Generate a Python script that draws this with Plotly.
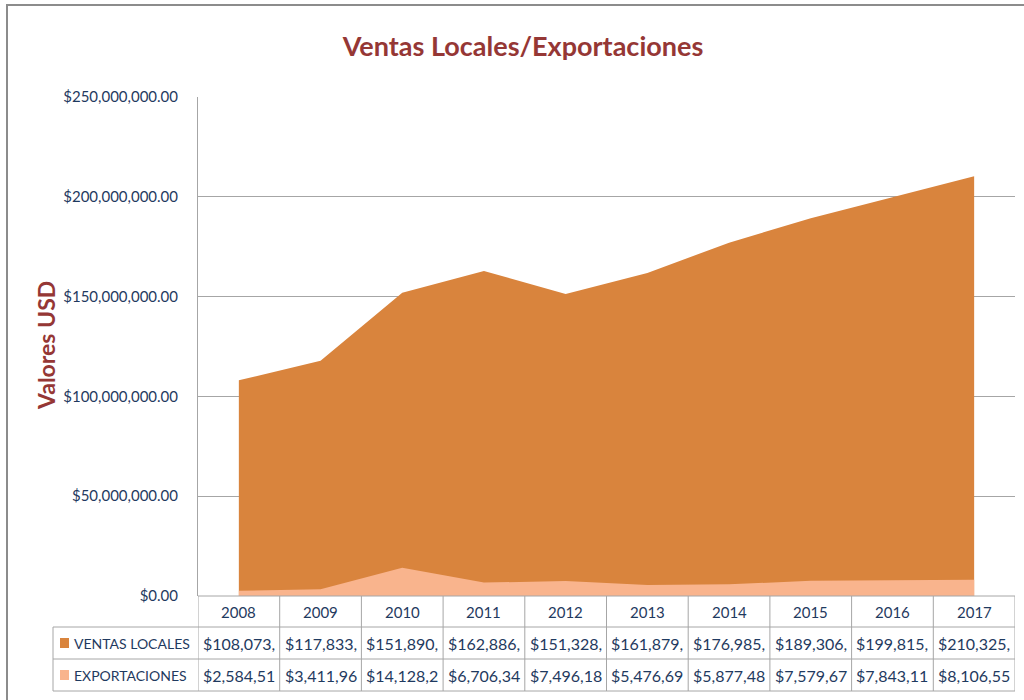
import plotly.graph_objects as go

# ---------------- data ----------------
years = ["2008", "2009", "2010", "2011", "2012", "2013", "2014", "2015", "2016", "2017"]
ventas_locales = [108073000, 117833000, 151890000, 162886000, 151328000,
                  161879000, 176985000, 189306000, 199815000, 210325000]
exportaciones = [2584510, 3411960, 14128200, 6706340, 7496180,
                 5476690, 5877480, 7579670, 7843110, 8106550]
series_names = ["VENTAS LOCALES", "EXPORTACIONES"]
y_ticks = [0, 50000000, 100000000, 150000000, 200000000, 250000000]

# ---------------- style ----------------
C_VENTAS = "#D9843D"
C_EXPORT = "#F9B48D"
C_TITLE = "#953735"
C_TEXT = "#1F3A60"
C_GRID = "#A6A6A6"
FONT = "Lato, Carlito, Calibri, sans-serif"

W, H = 1024, 700
L, R, T, B = 198, 1015, 97, 596
ncat = len(years)
colw = (R - L) / ncat


def px_p(px):
    return (px - L) / (R - L)


def py_p(py):
    return (B - py) / (B - T)


x = list(range(ncat))

fig = go.Figure()
fig.add_trace(go.Scatter(x=x, y=ventas_locales, name=series_names[0], mode="lines",
                         line=dict(width=0, color=C_VENTAS), fill="tozeroy",
                         fillcolor=C_VENTAS, hoverinfo="y"))
fig.add_trace(go.Scatter(x=x, y=exportaciones, name=series_names[1], mode="lines",
                         line=dict(width=0, color=C_EXPORT), fill="tozeroy",
                         fillcolor=C_EXPORT, hoverinfo="y"))

shapes = []
annotations = []

# outer chart border
shapes.append(dict(type="rect", xref="paper", yref="paper",
                   x0=px_p(7), x1=px_p(1040), y0=py_p(720), y1=py_p(5),
                   line=dict(color="#8C8C8C", width=2), fillcolor="rgba(0,0,0,0)", layer="below"))

# data table
row_y = [596, 627, 659, 691]
leg_left = 53
shapes.append(dict(type="line", xref="paper", yref="paper", x0=0, x1=1,
                   y0=py_p(row_y[0]), y1=py_p(row_y[0]), line=dict(color=C_GRID, width=1)))
for yy in row_y[1:]:
    shapes.append(dict(type="line", xref="paper", yref="paper", x0=px_p(leg_left), x1=1,
                       y0=py_p(yy), y1=py_p(yy), line=dict(color=C_GRID, width=1)))
shapes.append(dict(type="line", xref="paper", yref="paper", x0=px_p(leg_left), x1=px_p(leg_left),
                   y0=py_p(row_y[1]), y1=py_p(row_y[3]), line=dict(color=C_GRID, width=1)))
for i in range(ncat + 1):
    xv = i - 0.5
    shapes.append(dict(type="line", xref="x", yref="paper", x0=xv, x1=xv,
                       y0=py_p(row_y[0]), y1=py_p(row_y[3]), line=dict(color=C_GRID, width=1)))

for i, yr in enumerate(years):
    annotations.append(dict(x=i, y=py_p((row_y[0] + row_y[1]) / 2), xref="x", yref="paper",
                            text=yr, showarrow=False, font=dict(family=FONT, size=15, color=C_TEXT),
                            xanchor="center", yanchor="middle"))

for r, (vals, name, col) in enumerate([(ventas_locales, series_names[0], C_VENTAS),
                                        (exportaciones, series_names[1], C_EXPORT)]):
    yc = (row_y[r + 1] + row_y[r + 2]) / 2
    shapes.append(dict(type="rect", xref="paper", yref="paper", x0=px_p(60), x1=px_p(69),
                       y0=py_p(yc + 5), y1=py_p(yc - 5), fillcolor=col, line=dict(width=0)))
    annotations.append(dict(x=px_p(72), y=py_p(yc), xref="paper", yref="paper", text=name,
                            showarrow=False, font=dict(family=FONT, size=14, color=C_TEXT),
                            xanchor="left", yanchor="middle"))
    for i, v in enumerate(vals):
        label = ("${:,.2f}".format(v))[:9]
        annotations.append(dict(x=i, y=py_p(yc), xref="x", yref="paper", text=label,
                                showarrow=False, font=dict(family=FONT, size=16, color=C_TEXT),
                                xanchor="center", yanchor="middle"))

annotations.append(dict(x=px_p(46), y=py_p(346), xref="paper", yref="paper", text="<b>Valores USD</b>",
                        textangle=-90, showarrow=False,
                        font=dict(family=FONT, size=23, color=C_TITLE),
                        xanchor="center", yanchor="middle"))

fig.update_layout(
    width=W, height=H,
    margin=dict(l=L, r=W - R, t=T, b=H - B, pad=0),
    paper_bgcolor="white", plot_bgcolor="white",
    showlegend=False,
    title=dict(text="<b>Ventas Locales/Exportaciones</b>", x=523 / W, xanchor="center",
               y=1 - 47 / H, yanchor="middle",
               font=dict(family=FONT, size=27, color=C_TITLE)),
    xaxis=dict(range=[-0.5, ncat - 0.5], showticklabels=False, showgrid=False,
               zeroline=False, showline=False, ticks="", fixedrange=True),
    yaxis=dict(range=[0, 250000000], tickvals=y_ticks,
               ticktext=["${:,.2f}".format(v) for v in y_ticks],
               showgrid=True, gridcolor=C_GRID, gridwidth=1, zeroline=False,
               showline=True, linecolor=C_GRID, linewidth=1, ticks="",
               ticklabelstandoff=16,
               tickfont=dict(family=FONT, size=15, color=C_TEXT)),
    shapes=shapes,
    annotations=annotations,
)

fig.write_html("out.html", config={"displayModeBar": False},
               post_script="document.body.style.margin='0';document.body.style.overflow='hidden';")
